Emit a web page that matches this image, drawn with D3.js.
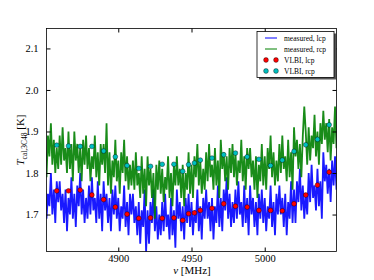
<!DOCTYPE html>
<html><head><meta charset="utf-8">
<script src="https://cdn.jsdelivr.net/npm/d3@7"></script>
<style>
body { margin: 0; background: #fff; }
text { font-family: "Liberation Serif", "DejaVu Serif", serif; fill: #000; }
</style>
</head><body>
<svg id="chart" width="374" height="280"></svg>
<script>
// measured Tcal, one value per MHz starting at 4850 MHz
const measuredStart = 4850;
const lcpMeasured = [
  1.77,1.69,1.75,1.72,1.80,1.70,1.76,1.68,1.78,1.73,
  1.78,1.71,1.75,1.68,1.76,1.66,1.74,1.70,1.79,1.69,
  1.75,1.67,1.77,1.72,1.80,1.70,1.76,1.68,1.74,1.69,
  1.77,1.70,1.79,1.71,1.74,1.68,1.78,1.69,1.75,1.66,
  1.78,1.71,1.75,1.68,1.74,1.66,1.76,1.70,1.77,1.69,
  1.74,1.66,1.72,1.69,1.77,1.67,1.73,1.65,1.75,1.70,
  1.75,1.68,1.72,1.65,1.73,1.63,1.71,1.67,1.76,1.61,
  1.71,1.63,1.73,1.68,1.76,1.66,1.72,1.64,1.70,1.65,
  1.73,1.66,1.75,1.67,1.70,1.64,1.74,1.65,1.71,1.62,
  1.76,1.69,1.73,1.66,1.72,1.64,1.74,1.68,1.75,1.67,
  1.73,1.65,1.71,1.68,1.76,1.66,1.72,1.64,1.74,1.69,
  1.76,1.69,1.73,1.66,1.74,1.64,1.72,1.68,1.77,1.67,
  1.74,1.66,1.76,1.71,1.79,1.69,1.75,1.67,1.73,1.68,
  1.76,1.69,1.78,1.70,1.73,1.67,1.77,1.68,1.74,1.65,
  1.77,1.70,1.74,1.67,1.73,1.65,1.75,1.69,1.76,1.68,
  1.74,1.66,1.72,1.69,1.77,1.67,1.73,1.65,1.75,1.70,
  1.77,1.70,1.74,1.67,1.75,1.65,1.73,1.69,1.78,1.68,
  1.76,1.68,1.78,1.73,1.81,1.71,1.77,1.69,1.75,1.70,
  1.80,1.73,1.82,1.74,1.77,1.71,1.81,1.72,1.78,1.69,
  1.85,1.78,1.82,1.75,1.81,1.73,1.83,1.77,1.84,1.76,1.82
];
const rcpMeasured = [
  1.87,1.79,1.89,1.84,1.92,1.82,1.88,1.80,1.86,1.81,
  1.89,1.82,1.91,1.83,1.86,1.80,1.90,1.81,1.87,1.78,
  1.90,1.83,1.87,1.80,1.86,1.78,1.88,1.82,1.89,1.81,
  1.86,1.78,1.84,1.81,1.89,1.79,1.85,1.77,1.87,1.82,
  1.87,1.80,1.92,1.77,1.85,1.75,1.83,1.79,1.88,1.78,
  1.83,1.75,1.85,1.80,1.88,1.78,1.84,1.76,1.82,1.77,
  1.83,1.76,1.85,1.77,1.80,1.74,1.84,1.75,1.81,1.72,
  1.84,1.77,1.81,1.74,1.80,1.69,1.82,1.76,1.83,1.75,
  1.81,1.73,1.79,1.76,1.84,1.74,1.80,1.72,1.82,1.77,
  1.84,1.77,1.81,1.74,1.82,1.72,1.80,1.76,1.85,1.75,
  1.82,1.74,1.84,1.79,1.87,1.77,1.83,1.75,1.81,1.76,
  1.85,1.78,1.87,1.79,1.82,1.76,1.86,1.77,1.83,1.74,
  1.88,1.81,1.85,1.78,1.84,1.76,1.86,1.80,1.87,1.79,
  1.85,1.77,1.83,1.80,1.88,1.78,1.84,1.76,1.86,1.81,
  1.86,1.79,1.83,1.76,1.84,1.74,1.82,1.78,1.87,1.77,
  1.84,1.76,1.86,1.81,1.89,1.79,1.85,1.77,1.83,1.78,
  1.87,1.80,1.89,1.81,1.84,1.78,1.88,1.79,1.85,1.76,
  1.91,1.84,1.88,1.81,1.87,1.79,1.89,1.96,1.90,1.82,
  1.91,1.83,1.89,1.86,1.94,1.84,1.90,1.82,1.92,1.87,
  1.95,1.88,1.92,1.85,1.93,1.83,1.91,1.87,1.96,1.86,1.93
];

// VLBI-derived values
const vlbiFreq = [4858,4866,4874,4882,4890,4898,4906,4914,4922,4930,4938,4944,4948,
                  4952,4956,4964,4972,4980,4988,4996,5004,5012,5020,5028,5036,5044];
const vlbiLcp = [1.757,1.757,1.759,1.747,1.736,1.718,1.701,1.691,1.692,1.691,1.692,1.686,1.702,
                 1.704,1.710,1.715,1.726,1.720,1.718,1.710,1.710,1.709,1.726,1.747,1.771,1.802];
const vlbiRcp = [1.867,1.865,1.864,1.864,1.853,1.839,1.818,1.811,1.816,1.821,1.821,1.804,1.820,
                 1.824,1.831,1.836,1.844,1.848,1.839,1.833,1.818,1.831,1.852,1.868,1.881,1.916];

const xTicks = [4900, 4950, 5000];
const yTicks = [1.7, 1.8, 1.9, 2.0, 2.1];

const svg = d3.select("#chart");
const pLeft = 46.5, pRight = 336.5, pTop = 28.5, pBottom = 251.5;

const x = d3.scaleLinear().domain([4851, 5049]).range([pLeft, pRight]);
const y = d3.scaleLinear().domain([1.611, 2.148]).range([pBottom, pTop]);

svg.append("rect").attr("width", 374).attr("height", 280).attr("fill", "#fff");

svg.append("clipPath").attr("id", "clip")
  .append("rect").attr("x", pLeft).attr("y", pTop)
  .attr("width", pRight - pLeft).attr("height", pBottom - pTop);

const plot = svg.append("g").attr("clip-path", "url(#clip)");

const line = d3.line()
  .x((d, i) => x(measuredStart + i))
  .y(d => y(d));

plot.append("path").datum(lcpMeasured)
  .attr("d", line).attr("fill", "none")
  .attr("stroke", "#0000ff").attr("stroke-width", 1.8).attr("stroke-opacity", 0.9);

plot.append("path").datum(rcpMeasured)
  .attr("d", line).attr("fill", "none")
  .attr("stroke", "#008000").attr("stroke-width", 1.8).attr("stroke-opacity", 0.9);

plot.selectAll(".lcp").data(vlbiLcp).enter().append("circle")
  .attr("cx", (d, i) => x(vlbiFreq[i])).attr("cy", d => y(d)).attr("r", 2.4)
  .attr("fill", "#ff0000").attr("stroke", "#000").attr("stroke-width", 0.4);

plot.selectAll(".rcp").data(vlbiRcp).enter().append("circle")
  .attr("cx", (d, i) => x(vlbiFreq[i])).attr("cy", d => y(d)).attr("r", 2.4)
  .attr("fill", "#00bfbf").attr("stroke", "#000").attr("stroke-width", 0.4);

// axes, ticks pointing inward on all four sides
const axisFont = g => g.selectAll("text").style("font-size", "10.5px");
svg.append("g").attr("transform", `translate(0,${pBottom})`)
  .call(d3.axisBottom(x).tickValues(xTicks).tickSizeInner(-4).tickSizeOuter(0).tickPadding(3).tickFormat(d3.format("d")))
  .call(g => g.select(".domain").remove()).call(axisFont);
svg.append("g").attr("transform", `translate(0,${pTop})`)
  .call(d3.axisTop(x).tickValues(xTicks).tickSizeInner(-4).tickSizeOuter(0).tickFormat(""))
  .call(g => g.select(".domain").remove());
svg.append("g").attr("transform", `translate(${pLeft},0)`)
  .call(d3.axisLeft(y).tickValues(yTicks).tickSizeInner(-4).tickSizeOuter(0).tickPadding(8).tickFormat(d3.format(".1f")))
  .call(g => g.select(".domain").remove()).call(axisFont);
svg.append("g").attr("transform", `translate(${pRight},0)`)
  .call(d3.axisRight(y).tickValues(yTicks).tickSizeInner(-4).tickSizeOuter(0).tickFormat(""))
  .call(g => g.select(".domain").remove());

svg.append("rect").attr("x", pLeft).attr("y", pTop)
  .attr("width", pRight - pLeft).attr("height", pBottom - pTop)
  .attr("fill", "none").attr("stroke", "#000").attr("stroke-width", 0.8);

// axis labels
svg.append("text").attr("x", 192).attr("y", 274).attr("text-anchor", "middle")
  .style("font-size", "11px")
  .html('<tspan font-style="italic">ν</tspan> [MHz]');

svg.append("text").attr("transform", "translate(24,140) rotate(-90)")
  .attr("text-anchor", "middle").style("font-size", "11px")
  .html('<tspan font-style="italic">T</tspan><tspan font-size="7.5px" dy="2.5">cal,3C48</tspan><tspan dy="-2.5"> [K]</tspan>');

// legend
const lg = svg.append("g").attr("transform", "translate(257,31.5)");
lg.append("rect").attr("x", 2).attr("y", 2).attr("width", 77).attr("height", 46).attr("fill", "#555");
lg.append("rect").attr("width", 77).attr("height", 46).attr("fill", "#fff")
  .attr("stroke", "#000").attr("stroke-width", 0.8);
const legendItems = [
  {label: "measured, lcp", color: "#0000ff", kind: "line"},
  {label: "measured, rcp", color: "#008000", kind: "line"},
  {label: "VLBI, lcp", color: "#ff0000", kind: "dot"},
  {label: "VLBI, rcp", color: "#00bfbf", kind: "dot"}
];
legendItems.forEach((d, i) => {
  const yy = 6.5 + i * 11;
  if (d.kind === "line") {
    lg.append("line").attr("x1", 8).attr("x2", 20).attr("y1", yy).attr("y2", yy)
      .attr("stroke", d.color).attr("stroke-width", 1);
  } else {
    [9, 19].forEach(cx => lg.append("circle").attr("cx", cx).attr("cy", yy).attr("r", 2.4)
      .attr("fill", d.color).attr("stroke", "#000").attr("stroke-width", 0.4));
  }
  lg.append("text").attr("x", 27).attr("y", yy + 2.6).style("font-size", "7.5px").text(d.label);
});
</script>
</body></html>
